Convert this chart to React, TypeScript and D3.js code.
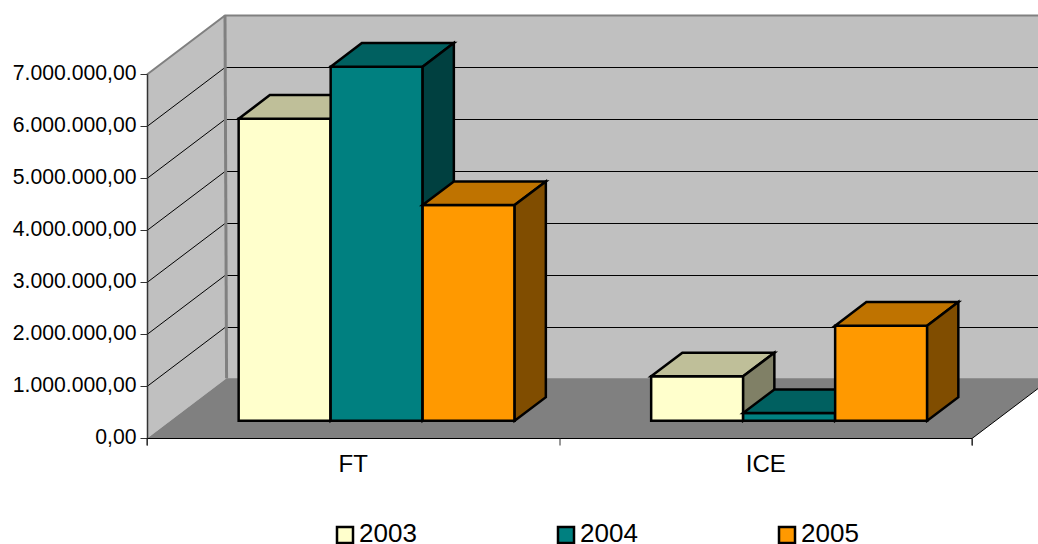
import React, { useRef, useEffect } from 'react';
import * as d3 from 'd3';

const categories = ['FT', 'ICE'];
const years = ['2003', '2004', '2005'];
const values2003 = [5810000, 855000];
const values2004 = [6810000, 150000];
const values2005 = [4150000, 1830000];
const yTicks = [0, 1000000, 2000000, 3000000, 4000000, 5000000, 6000000, 7000000];
const frontColors = ['#FFFFCC', '#008080', '#FF9900'];
const topColors = ['#BFBF99', '#006060', '#BF7300'];
const sideColors = ['#808066', '#004040', '#804D00'];
const legendSwatchX = [337, 558, 779];

const width = 1038;
const height = 544;
const depthX = 78;
const depthY = -59;
const barNear = 0.3;
const barFar = 0.7;
const floorBack = 1.02;

const App: React.FC = () => {
    const svgRef = useRef<SVGSVGElement | null>(null);

    useEffect(() => {
        const svg = d3.select(svgRef.current);
        svg.selectAll('*').remove();

        const font = '"Liberation Sans", Arial, sans-serif';
        const series = [values2003, values2004, values2005];

        const x0 = d3.scaleBand().domain(categories).range([147, 972]);
        const x1 = d3
            .scaleBand()
            .domain(years)
            .range([0, x0.bandwidth()])
            .paddingInner(0)
            .paddingOuter(0.742);
        const y = d3.scaleLinear().domain([0, 7000000]).range([438.5, 74.5]);

        // projects a point of the plot box, d is the depth from 0 to 1
        const pt = (px: number, py: number, d: number) =>
            [px + depthX * d, py + depthY * d] as [number, number];
        const poly = (pts: [number, number][]) => 'M' + pts.join('L') + 'Z';

        const [xa, xb] = x0.range();
        const y0 = y(0);
        const yMax = y(7000000);

        // walls and floor
        svg.append('path')
            .attr('d', poly([pt(xa, y0, 0), pt(xa, y0, 1), pt(xb, y0, 1), pt(xb, yMax, 1), pt(xa, yMax, 1), pt(xa, yMax, 0)]))
            .attr('fill', '#C0C0C0');
        svg.append('path')
            .attr('d', poly([pt(xa, y0, 0), pt(xb, y0, 0), pt(xb, y0, floorBack), pt(xa, y0, floorBack)]))
            .attr('fill', '#808080');

        svg.append('g')
            .selectAll('path')
            .data(yTicks.filter(t => t > 0 && t < 7000000))
            .join('path')
            .attr('d', t => 'M' + [pt(xa, y(t), 0), pt(xa, y(t), 1), pt(xb, y(t), 1)].join('L'))
            .attr('fill', 'none')
            .attr('stroke', '#000')
            .attr('stroke-width', 1);

        svg.append('path')
            .attr('d', 'M' + [pt(xa, yMax, 0), pt(xa, yMax, 1), pt(xb, yMax, 1)].join('L'))
            .attr('fill', 'none')
            .attr('stroke', '#808080')
            .attr('stroke-width', 2);
        svg.append('path')
            .attr('d', 'M' + [pt(xa, y0, floorBack), pt(xa, yMax, 1)].join('L'))
            .attr('stroke', '#808080')
            .attr('stroke-width', 3);
        svg.append('path')
            .attr('d', 'M' + [pt(xb, y0, 0), pt(xb, y0, floorBack)].join('L'))
            .attr('stroke', '#000')
            .attr('stroke-width', 1);

        // bars
        categories.forEach((cat, c) => {
            years.forEach((yr, s) => {
                const left = (x0(cat) as number) + (x1(yr) as number);
                const right = left + x1.bandwidth();
                const top = y(series[s][c]);
                const g = svg.append('g')
                    .attr('stroke', '#000')
                    .attr('stroke-width', 2.5)
                    .attr('stroke-linejoin', 'miter');
                g.append('path')
                    .attr('d', poly([pt(left, top, barNear), pt(right, top, barNear), pt(right, y0, barNear), pt(left, y0, barNear)]))
                    .attr('fill', frontColors[s]);
                g.append('path')
                    .attr('d', poly([pt(left, top, barNear), pt(left, top, barFar), pt(right, top, barFar), pt(right, top, barNear)]))
                    .attr('fill', topColors[s]);
                g.append('path')
                    .attr('d', poly([pt(right, top, barNear), pt(right, top, barFar), pt(right, y0, barFar), pt(right, y0, barNear)]))
                    .attr('fill', sideColors[s]);
            });
        });

        // axes
        const locale = d3.formatLocale({
            decimal: ',',
            thousands: '.',
            grouping: [3],
            currency: ['', ''],
        });
        const yAxis = d3
            .axisLeft(y)
            .tickValues(yTicks)
            .tickSize(7)
            .tickSizeOuter(0)
            .offset(0)
            .tickFormat(d => locale.format(',.2f')(d as number));
        const gy = svg.append('g').attr('transform', `translate(${xa + 0.5},0)`).call(yAxis);
        gy.selectAll('text')
            .attr('font-family', font)
            .attr('font-size', 21.2)
            .attr('fill', '#000')
            .attr('x', -11)
            .attr('dy', '0.24em');
        gy.selectAll('path').attr('stroke', '#333').attr('stroke-width', 1.5);
        gy.selectAll('line').attr('stroke', '#333');

        const xAxis = d3.axisBottom(x0).offset(0).tickSizeOuter(7).tickSizeInner(0);
        const gx = svg.append('g').attr('transform', `translate(0,${y0})`).call(xAxis);
        gx.select('.domain').attr('stroke', '#000').attr('stroke-width', 1);
        gx.selectAll('text')
            .attr('font-family', font)
            .attr('font-size', 24)
            .attr('fill', '#000')
            .attr('y', 16);
        svg.append('g')
            .selectAll('line')
            .data([xa, (xa + xb) / 2, xb])
            .join('line')
            .attr('x1', d => d + 0.5)
            .attr('x2', d => d + 0.5)
            .attr('y1', y0)
            .attr('y2', y0 + 7)
            .attr('stroke', '#333');

        // legend
        const legend = svg.append('g')
            .selectAll('g')
            .data(years)
            .join('g')
            .attr('transform', (_, i) => `translate(${legendSwatchX[i]},527)`);
        legend.append('rect')
            .attr('width', 16)
            .attr('height', 16)
            .attr('fill', (_, i) => frontColors[i])
            .attr('stroke', '#000')
            .attr('stroke-width', 2.5);
        legend.append('text')
            .attr('x', 22)
            .attr('y', 15)
            .attr('font-family', font)
            .attr('font-size', 26)
            .attr('fill', '#000')
            .text(d => d);
    }, []);

    return (
        <svg
            ref={svgRef}
            width={width}
            height={height}
            style={{ position: 'absolute', left: 0, top: 0, background: '#fff' }}
        />
    );
};

export default App;
